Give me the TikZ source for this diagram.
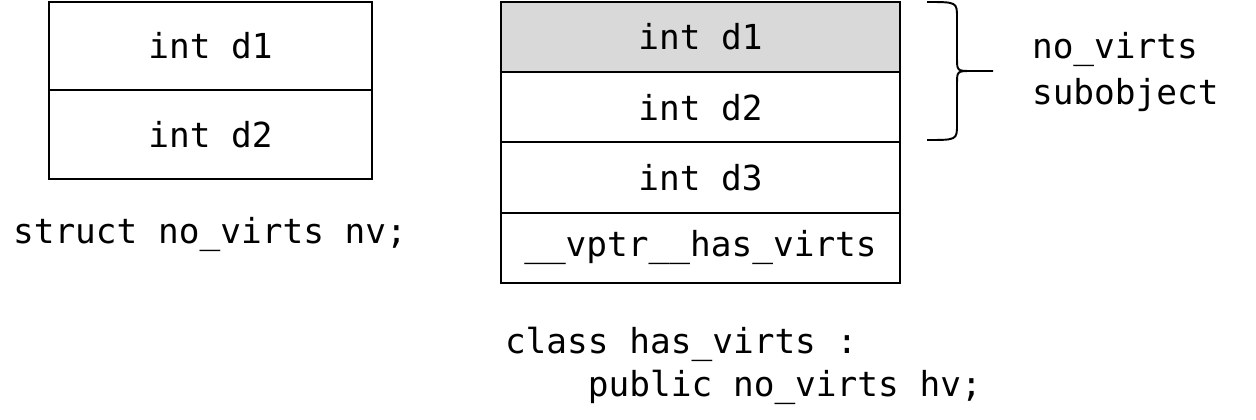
\documentclass[tikz,border=0pt]{standalone}
\usepackage{fontspec}
\setmonofont{DejaVu Sans Mono}
\usetikzlibrary{positioning}

\begin{document}
\begin{tikzpicture}[x=0.02cm, y=-0.02cm, line width=1.1pt,
    every node/.style={font=\ttfamily\fontsize{19.6}{24}\selectfont, inner sep=0pt, outer sep=0pt},
    cell/.style={draw, rectangle},
    nvcell/.style={cell, minimum width=6.46cm, minimum height=1.77cm},
    hvcell/.style={cell, minimum width=7.98cm, minimum height=1.405cm}]
    \useasboundingbox (0,0) rectangle (1256,419);
    % struct no_virts
    \node[nvcell] (nv1) at (210.5,46) {int d1};
    \node[nvcell, below=0pt of nv1] (nv2) {int d2};
    \node (nvname) at (210,234) {struct no\_virts nv;};
    % class has_virts
    \node[hvcell, fill=black!15] (hv1) at (700.5,37) {int d1};
    \node[hvcell, below=0pt of hv1] (hv2) {int d2};
    \node[hvcell, below=0pt of hv2] (hv3) {int d3};
    \node[hvcell, below=0pt of hv3] (hv4) {\_\_vptr\_\_has\_virts};
    \node[anchor=west, align=left, font=\ttfamily\fontsize{19.6}{24.5}\selectfont] (hvname) at (505,366)
        {class has\_virts :\\\hphantom{1234}public no\_virts hv;};
    % brace over the no_virts part
    \draw (927,2) .. controls (957,2) .. (957,18) -- (957,58)
        .. controls (957,71) .. (972,71) -- (993,71);
    \draw (972,71) .. controls (957,71) .. (957,84) -- (957,124)
        .. controls (957,140) .. (927,140);
    \node[anchor=west, align=left, font=\ttfamily\fontsize{19.6}{26}\selectfont] (sub) at (1032,72) {no\_virts\\subobject};
\end{tikzpicture}
\end{document}
